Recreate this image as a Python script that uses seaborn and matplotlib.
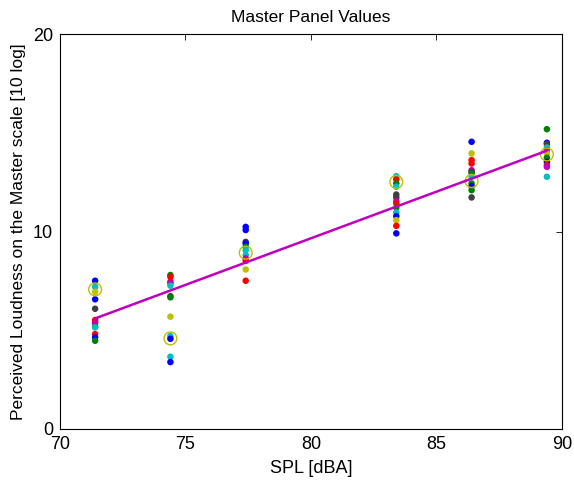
import matplotlib
matplotlib.use("Agg")
import matplotlib.pyplot as plt
import seaborn as sns
import pandas as pd

# SPL levels (dBA)
spl_levels = [71.4, 74.4, 77.4, 83.4, 86.4, 89.4]

# Individual listener values per SPL level, with their colour code
# b=blue, r=red, g=green, c=cyan, m=magenta, y=olive, k=dark gray
vals_714 = [7.51, 7.20, 6.95, 6.57, 6.09, 5.52, 5.43, 5.35, 5.18, 5.15, 4.81, 4.64, 4.47]
cols_714 = ["b", "c", "y", "b", "k", "r", "r", "m", "g", "c", "r", "b", "g"]

vals_744 = [7.80, 7.71, 7.46, 7.38, 7.26, 6.73, 6.67, 5.69, 4.71, 4.57, 3.66, 3.39]
cols_744 = ["g", "r", "r", "m", "c", "k", "g", "y", "c", "b", "c", "b"]

vals_774 = [10.24, 10.08, 9.48, 9.40, 9.23, 9.06, 8.81, 8.64, 8.52, 8.08, 7.51]
cols_774 = ["b", "b", "k", "b", "g", "c", "c", "m", "r", "y", "r"]

vals_834 = [12.81, 12.64, 12.44, 12.27, 11.88, 11.73, 11.54, 11.43, 11.21, 10.97, 10.78, 10.58, 10.29, 9.91]
cols_834 = ["c", "r", "g", "c", "k", "k", "m", "r", "g", "c", "b", "y", "r", "b"]

vals_864 = [14.55, 13.96, 13.62, 13.45, 13.11, 13.03, 12.95, 12.78, 12.44, 12.30, 12.10, 11.73]
cols_864 = ["b", "y", "r", "r", "m", "k", "g", "c", "g", "b", "g", "k"]

vals_894 = [15.19, 14.50, 14.43, 14.26, 14.13, 13.96, 13.74, 13.53, 13.37, 13.28, 12.78]
cols_894 = ["g", "b", "k", "c", "m", "y", "g", "b", "r", "m", "c"]

# Master panel values (open circles)
master_vals = [7.07, 4.59, 8.93, 12.52, 12.56, 13.91]

# Fitted line end points
fit_x = [71.4, 89.4]
fit_y = [5.6, 14.1]

palette = {
    "b": (0.0, 0.0, 1.0),
    "g": (0.0, 0.5, 0.0),
    "r": (1.0, 0.0, 0.0),
    "c": (0.0, 0.75, 0.75),
    "m": (0.75, 0.0, 0.75),
    "y": (0.75, 0.75, 0.0),
    "k": (0.25, 0.25, 0.25),
}

groups = [(vals_714, cols_714), (vals_744, cols_744), (vals_774, cols_774),
          (vals_834, cols_834), (vals_864, cols_864), (vals_894, cols_894)]
rows = []
for spl, (vs, cs) in zip(spl_levels, groups):
    for v, c in zip(vs, cs):
        rows.append({"spl": spl, "val": v, "col": c})
df = pd.DataFrame(rows)
df_master = pd.DataFrame({"spl": spl_levels, "val": master_vals})
df_fit = pd.DataFrame({"spl": fit_x, "val": fit_y})

sns.set_style("white")
plt.rcParams["font.family"] = ["Liberation Sans", "DejaVu Sans"]
plt.rcParams["text.color"] = "black"
plt.rcParams["axes.labelcolor"] = "black"
plt.rcParams["xtick.color"] = "black"
plt.rcParams["ytick.color"] = "black"

fig = plt.figure(figsize=(5.74, 4.82), dpi=100)
ax = fig.add_axes([0.1045, 0.110, 0.8745, 0.819])

sns.scatterplot(data=df, x="spl", y="val", hue="col", palette=palette,
                s=22, linewidth=0, legend=False, ax=ax, zorder=2)
sns.scatterplot(data=df_master, x="spl", y="val", s=85, facecolor="none",
                edgecolor=palette["y"], linewidth=1.0, legend=False, ax=ax, zorder=3)
sns.lineplot(data=df_fit, x="spl", y="val", color=(0.75, 0.0, 0.75),
             linewidth=1.8, ax=ax, zorder=4)

ax.set_xlim(70, 90)
ax.set_ylim(0, 20)
ax.set_xticks([70, 75, 80, 85, 90])
ax.set_yticks([0, 10, 20])
ax.tick_params(direction="in", length=4, width=0.6, top=True, right=True,
               labelsize=13, colors="black", labelcolor="black")
ax.tick_params(axis="x", pad=5)
ax.tick_params(axis="y", pad=5)
for sp in ax.spines.values():
    sp.set_visible(True)
    sp.set_color("black")
    sp.set_linewidth(0.8)

ax.set_title("Master Panel Values", fontsize=12.5, pad=9, color="black")
ax.set_xlabel("SPL [dBA]", fontsize=13, labelpad=5, color="black")
ax.set_ylabel("Perceived Loudness on the Master scale [10 log]", fontsize=12.5,
              labelpad=5, color="black")

fig.savefig("out.png", dpi=100)
